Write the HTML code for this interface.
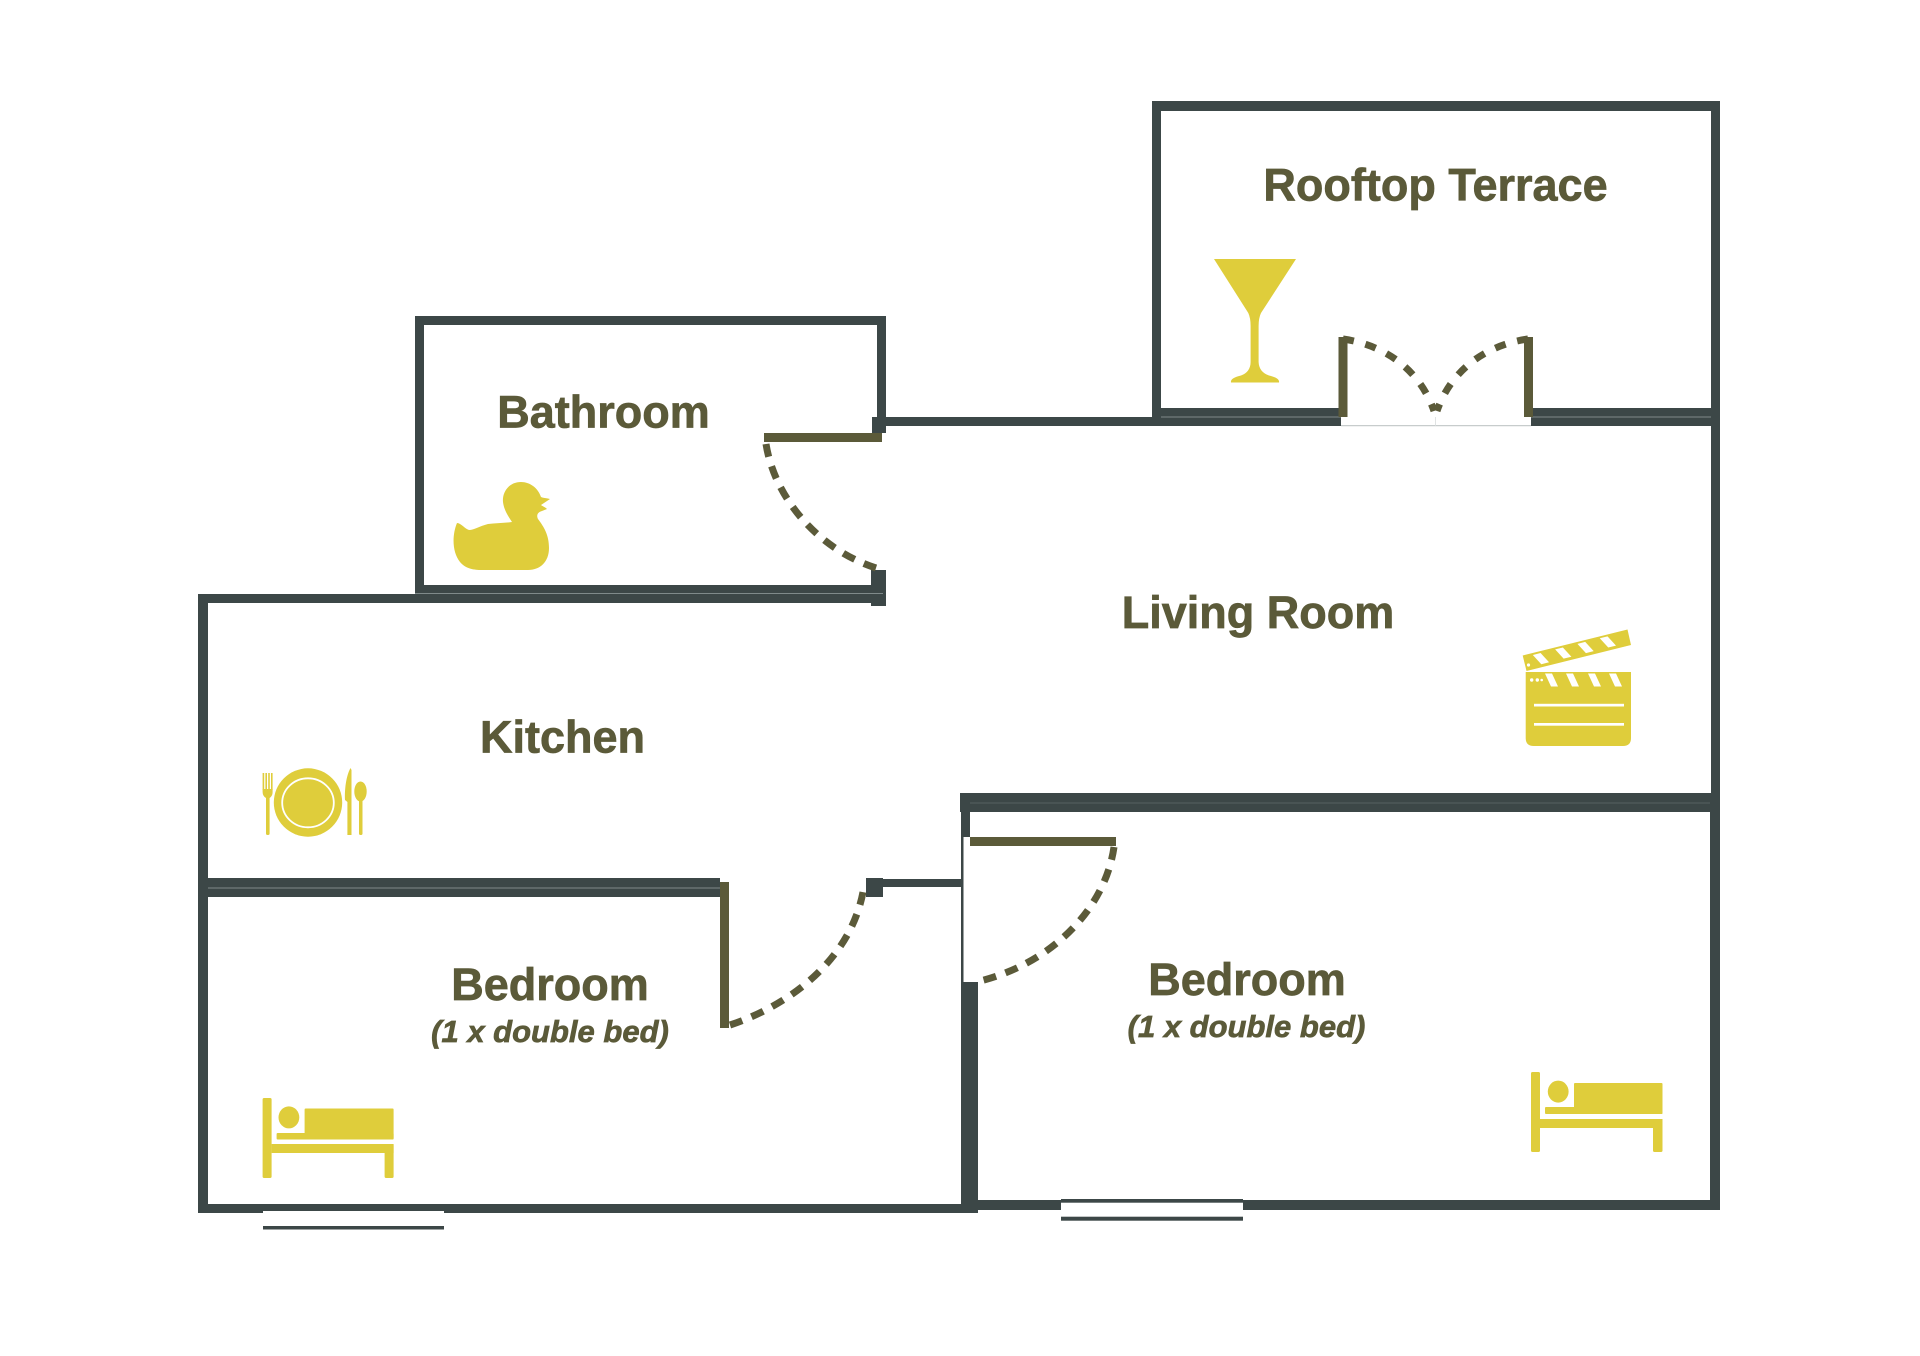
<!DOCTYPE html>
<html>
<head>
<meta charset="utf-8">
<style>
  html, body { margin: 0; padding: 0; background: #ffffff; }
  body { width: 1920px; height: 1356px; overflow: hidden; }
  svg { display: block; }
  .lbl { font-family: "Liberation Sans", Arial, sans-serif; font-weight: bold; fill: #5b5a39; stroke: #5b5a39; stroke-width: 0.7; }
</style>
</head>
<body>
<svg width="1920" height="1356" viewBox="0 0 1920 1356" xmlns="http://www.w3.org/2000/svg">
  <rect x="0" y="0" width="1920" height="1356" fill="#ffffff"/>

  <!-- ============ WALLS (slate) ============ -->
  <g fill="#3c4747">
    <!-- Rooftop terrace -->
    <rect x="1152" y="101" width="568" height="10"/>
    <rect x="1152" y="101" width="9" height="316"/>
    <rect x="1711" y="101" width="9" height="711"/>
    <rect x="1152" y="408" width="189" height="9"/>
    <rect x="1531" y="408" width="189" height="9"/>
    <!-- Living room top wall -->
    <rect x="872" y="417" width="469" height="9"/>
    <rect x="1531" y="417" width="189" height="9"/>

    <!-- Bathroom -->
    <rect x="415" y="316" width="471" height="9"/>
    <rect x="415" y="316" width="9" height="277"/>
    <rect x="877" y="316" width="9" height="117"/>
    <rect x="872" y="417" width="14" height="16"/>
    <rect x="415" y="585" width="471" height="8"/>
    <!-- Kitchen top -->
    <rect x="198" y="594" width="685" height="9"/>
    <rect x="871" y="570" width="15" height="36"/>

    <!-- Kitchen / left bedroom left wall -->
    <rect x="198" y="594" width="10" height="619"/>
    <!-- Kitchen bottom wall -->
    <rect x="198" y="878" width="522" height="19"/>
    <!-- Hall wall -->
    <rect x="866" y="879" width="96" height="8"/>
    <rect x="866" y="878" width="17" height="19"/>

    <!-- Living bottom / right bedroom top -->
    <rect x="960" y="793" width="760" height="19"/>
    <!-- Right bedroom left wall -->
    <rect x="961" y="793" width="9" height="44"/>
    <rect x="961" y="812" width="2.5" height="170"/>
    <rect x="961" y="982" width="17" height="231"/>
    <!-- Right bedroom right wall -->
    <rect x="1710" y="793" width="10" height="417"/>

    <!-- Left bedroom bottom wall with window -->
    <rect x="198" y="1204" width="65" height="9"/>
    <rect x="263" y="1204" width="181" height="7"/>
    <rect x="444" y="1204" width="534" height="9"/>
    <rect x="263" y="1226" width="181" height="3.5"/>

    <!-- Right bedroom bottom wall with window -->
    <rect x="978" y="1200" width="83" height="10"/>
    <rect x="1061" y="1199" width="182" height="3.7"/>
    <rect x="1243" y="1200" width="477" height="10"/>
    <rect x="1061" y="1216.7" width="182" height="4"/>
  </g>

  <!-- subtle seam lines inside double walls -->
  <g fill="#7f8a8a">
    <rect x="415" y="593" width="468" height="1"/>
    <rect x="208" y="887.5" width="512" height="1"/>
    <rect x="1161" y="416.5" width="180" height="1"/>
    <rect x="1531" y="416.5" width="180" height="1"/>
  </g>
  <rect x="970" y="802.5" width="740" height="1" fill="#566262"/>
  <!-- terrace door opening threshold -->
  <rect x="1341" y="425.2" width="190" height="1" fill="#b9c0c0"/>
  <rect x="1435" y="417" width="0.8" height="9" fill="#d8dcdc"/>

  <!-- ============ DOORS (olive) ============ -->
  <g fill="#5b5a39">
    <rect x="764" y="433" width="118" height="9"/>
    <rect x="720" y="882" width="9" height="146"/>
    <rect x="970" y="837" width="146" height="9"/>
    <rect x="1338.5" y="337" width="9" height="80"/>
    <rect x="1524" y="337" width="9" height="80"/>
  </g>
  <g fill="none" stroke="#5b5a39" stroke-width="7" stroke-dasharray="13 10">
    <path d="M766,444 C775,500 820,550 876,568"/>
    <path d="M730,1025 C790,1005 850,960 863,892"/>
    <path d="M1114,847 C1105,910 1050,965 976,982"/>
    <path d="M1343,339 C1385,345 1420,370 1434,411" stroke-dasharray="11 12"/>
    <path d="M1528,339 C1486,345 1451,370 1437,411" stroke-dasharray="11 12"/>
  </g>

  <!-- ============ LABELS ============ -->
  <text class="lbl" x="1435.5" y="200.5" font-size="45" text-anchor="middle">Rooftop Terrace</text>
  <text class="lbl" x="603.5" y="427.5" font-size="45" text-anchor="middle">Bathroom</text>
  <text class="lbl" x="1258" y="628" font-size="45" text-anchor="middle">Living Room</text>
  <text class="lbl" x="562.5" y="752.5" font-size="45" text-anchor="middle">Kitchen</text>
  <text class="lbl" x="550" y="1000" font-size="45" text-anchor="middle">Bedroom</text>
  <text class="lbl" x="550" y="1042" font-size="31" font-style="italic" text-anchor="middle">(1 x double bed)</text>
  <text class="lbl" x="1247" y="995" font-size="45" text-anchor="middle">Bedroom</text>
  <text class="lbl" x="1246.5" y="1037" font-size="31" font-style="italic" text-anchor="middle">(1 x double bed)</text>

  <!-- ============ ICONS (yellow) ============ -->
  <g fill="#dfcd3b">
    <!-- Martini glass -->
    <path d="M1214,259 L1296,259 L1261,313 Q1258.6,318 1258.6,326 L1258.6,362 Q1259,372 1269,375.5 Q1280,378 1279,382.5 L1231,382.5 Q1230,378 1241,375.5 Q1250.5,372 1250.6,362 L1250.6,326 Q1250.6,318 1248.3,313 Z"/>

    <!-- Duck -->
    <path d="M457,523 C452,535 452,552 460,562 C466,569 474,570 482,570 L528,570 C540,570 549,562 549,548 C549,535 544,527 538,519 C536,515 538,512 542,511 L547,509 C545,507 542,506 541,505 L550,499 C546,498 543,498 541,497 C538,488 530,482 521,482 C509,482 502,492 503,502 C504,510 508,516 512,522 C505,523 496,523 488,524 C480,526 474,530 469,530 C465,529 461,523 457,523 Z"/>

    <!-- Plate setting -->
    <rect x="262.6" y="773" width="1.6" height="17"/>
    <rect x="265.4" y="773" width="1.6" height="17"/>
    <rect x="268.2" y="773" width="1.6" height="17"/>
    <rect x="271" y="773" width="1.6" height="17"/>
    <path d="M262.6,789 L272.6,789 L272.6,792 Q272.6,796 269.6,798 L266,798 Q262.6,796 262.6,792 Z"/>
    <rect x="266" y="796" width="3.6" height="39" rx="1.5"/>
    <circle cx="308" cy="802.5" r="34.2"/>
    <path d="M350.5,768 C346,776 344.5,790 345,800 L347.4,802 L347.4,835 L351.5,835 L351.5,770 Z"/>
    <ellipse cx="360.5" cy="791.5" rx="6.2" ry="10"/>
    <rect x="359" y="798" width="3.5" height="37" rx="1.5"/>

    <!-- Clapperboard -->
    <path d="M1525.7,672 L1631,672 L1631,738 Q1631,746 1623,746 L1533.7,746 Q1525.7,746 1525.7,738 Z"/>
    <path d="M1522.7,655.5 L1627.5,629.5 L1631,645 L1526.5,671 Z"/>

    <!-- Beds -->
    <g transform="translate(262.6,1098)">
      <rect x="0" y="0" width="9" height="80" rx="1.5"/>
      <ellipse cx="26.3" cy="19.4" rx="10.4" ry="11"/>
      <rect x="42" y="10.5" width="89" height="31" rx="1"/>
      <rect x="14" y="35" width="117" height="6.5" rx="1"/>
      <rect x="9" y="46" width="122" height="9"/>
      <rect x="122" y="46" width="9" height="34" rx="1.5"/>
    </g>
    <g transform="translate(1531,1072)">
      <rect x="0" y="0" width="9" height="80" rx="1.5"/>
      <ellipse cx="27.2" cy="19.6" rx="10.4" ry="11"/>
      <rect x="43" y="11" width="88.5" height="31" rx="1"/>
      <rect x="14" y="35" width="117.5" height="7" rx="1"/>
      <rect x="9" y="47" width="122.5" height="9"/>
      <rect x="122" y="47" width="9.5" height="33" rx="1.5"/>
    </g>
  </g>

  <!-- white details over icons -->
  <g fill="#ffffff">
    <ellipse cx="308" cy="802.8" rx="25.8" ry="24.5" fill="none" stroke="#ffffff" stroke-width="1.8"/>
    <polygon points="1545,673.5 1552,673.5 1558,686.5 1551,686.5"/>
    <polygon points="1566,673.5 1573,673.5 1579,686.5 1572,686.5"/>
    <polygon points="1588,673.5 1595,673.5 1601,686.5 1594,686.5"/>
    <polygon points="1609,673.5 1616,673.5 1622,686.5 1615,686.5"/>
    <circle cx="1531.7" cy="680" r="1.7"/>
    <circle cx="1537.3" cy="680" r="1.7"/>
    <circle cx="1541.7" cy="680" r="1.3"/>
    <rect x="1534" y="703.8" width="90" height="2.7"/>
    <rect x="1534" y="723" width="90" height="2.7"/>
    <g transform="translate(1526.5,671) rotate(-14)">
      <polygon points="10,-14 18,-14 24,-3 16,-3"/>
      <polygon points="33,-14 41,-14 47,-3 39,-3"/>
      <polygon points="56,-14 64,-14 70,-3 62,-3"/>
      <polygon points="79,-14 87,-14 93,-3 85,-3"/>
    </g>
    <circle cx="1528.5" cy="665" r="1.6"/>
  </g>
</svg>
</body>
</html>
